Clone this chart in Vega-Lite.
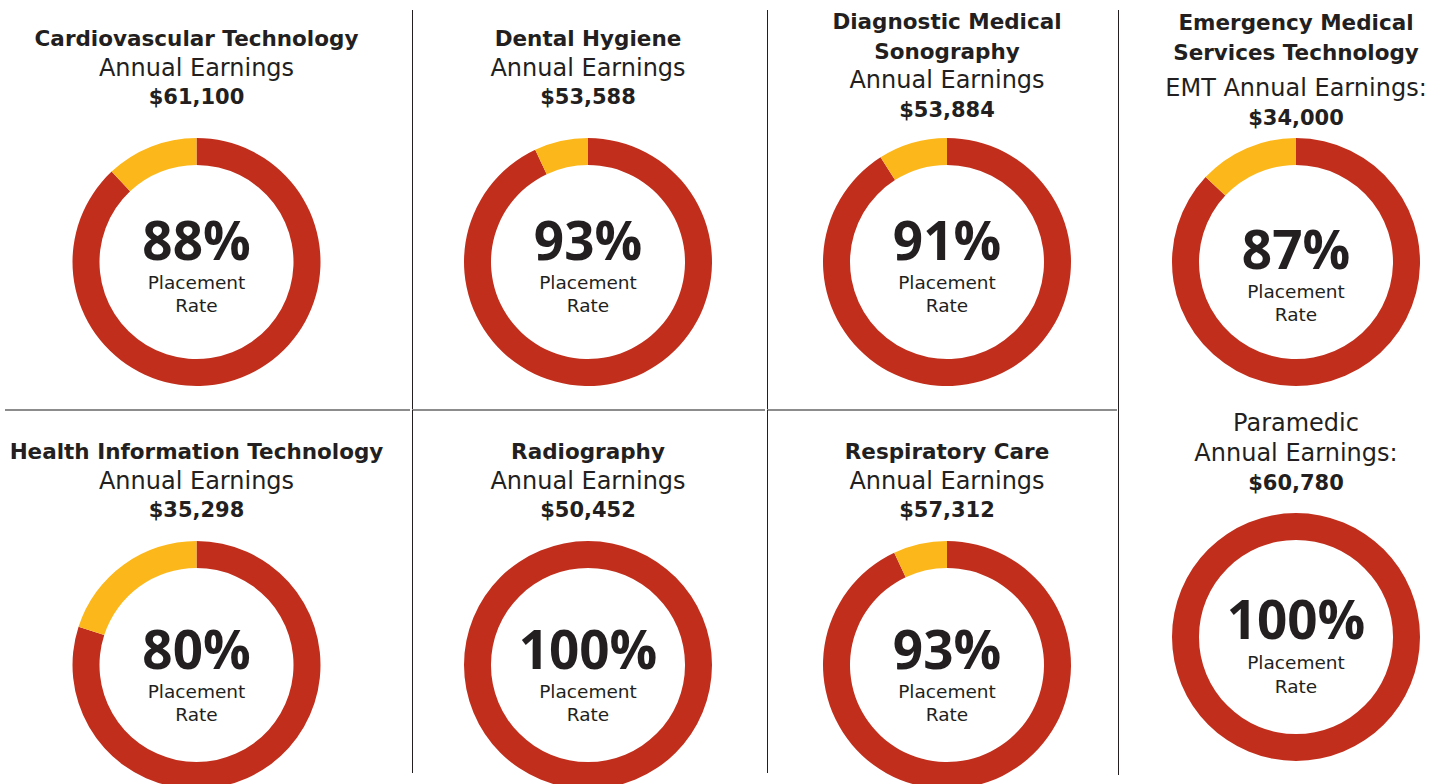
{
  "$schema": "https://vega.github.io/schema/vega-lite/v6.json",
  "padding": 0,
  "background": "white",
  "config": {
    "view": {"stroke": null},
    "text": {"font": "DejaVu Sans", "color": "#231F20", "align": "center"},
    "concat": {"spacing": 0}
  },
  "datasets": {
    "programs": [
      {"program": "Cardiovascular Technology", "title": "Cardiovascular Technology", "label": "Annual Earnings", "earnings": 61100, "rate": 0.88},
      {"program": "Dental Hygiene", "title": "Dental Hygiene", "label": "Annual Earnings", "earnings": 53588, "rate": 0.93},
      {"program": "Diagnostic Medical Sonography", "title": "Diagnostic Medical\nSonography", "label": "Annual Earnings", "earnings": 53884, "rate": 0.91},
      {"program": "Emergency Medical Services Technology", "title": "Emergency Medical\nServices Technology", "label": "EMT Annual Earnings:", "earnings": 34000, "rate": 0.87},
      {"program": "Health Information Technology", "title": "Health Information Technology", "label": "Annual Earnings", "earnings": 35298, "rate": 0.80},
      {"program": "Radiography", "title": "Radiography", "label": "Annual Earnings", "earnings": 50452, "rate": 1.00},
      {"program": "Respiratory Care", "title": "Respiratory Care", "label": "Annual Earnings", "earnings": 57312, "rate": 0.93},
      {"program": "Paramedic", "title": "Paramedic", "label": "Annual Earnings:", "earnings": 60780, "rate": 1.00}
    ],
    "shares": [
      {"program": "Cardiovascular Technology", "status": "Placed", "share": 88},
      {"program": "Cardiovascular Technology", "status": "Unplaced", "share": 12},
      {"program": "Dental Hygiene", "status": "Placed", "share": 93},
      {"program": "Dental Hygiene", "status": "Unplaced", "share": 7},
      {"program": "Diagnostic Medical Sonography", "status": "Placed", "share": 91},
      {"program": "Diagnostic Medical Sonography", "status": "Unplaced", "share": 9},
      {"program": "Emergency Medical Services Technology", "status": "Placed", "share": 87},
      {"program": "Emergency Medical Services Technology", "status": "Unplaced", "share": 13},
      {"program": "Health Information Technology", "status": "Placed", "share": 80},
      {"program": "Health Information Technology", "status": "Unplaced", "share": 20},
      {"program": "Radiography", "status": "Placed", "share": 100},
      {"program": "Radiography", "status": "Unplaced", "share": 0},
      {"program": "Respiratory Care", "status": "Placed", "share": 93},
      {"program": "Respiratory Care", "status": "Unplaced", "share": 7},
      {"program": "Paramedic", "status": "Placed", "share": 100},
      {"program": "Paramedic", "status": "Unplaced", "share": 0}
    ]
  },
  "spacing": 0,
  "hconcat": [
    {
      "spacing": 0, "bounds": "flush",
      "vconcat": [
        {
          "width": 410, "height": 410,
          "layer": [
            {"data": {"name": "shares"}, "transform": [{"filter": "datum.program === 'Cardiovascular Technology'"}],
             "mark": {"type": "arc", "innerRadius": 97, "outerRadius": 124, "xOffset": -8.5, "yOffset": 57},
             "encoding": {"theta": {"field": "share", "type": "quantitative", "stack": true},
                          "color": {"field": "status", "type": "nominal", "scale": {"domain": ["Placed", "Unplaced"], "range": ["#C12F1C", "#FCB71A"]}, "legend": null}}},
            {"data": {"name": "programs"}, "transform": [{"filter": "datum.program === 'Cardiovascular Technology'"}],
             "layer": [
               {"mark": {"type": "text", "baseline": "top", "fontWeight": "bold", "fontSize": 21.5, "lineBreak": "\n", "lineHeight": 30, "dx": -8.5, "dy": -176.5}, "encoding": {"text": {"field": "title"}}},
               {"mark": {"type": "text", "baseline": "alphabetic", "fontSize": 24, "dx": -8.5, "dy": -129.5}, "encoding": {"text": {"field": "label"}}},
               {"mark": {"type": "text", "baseline": "alphabetic", "fontWeight": "bold", "fontSize": 21, "dx": -8.5, "dy": -101}, "encoding": {"text": {"field": "earnings", "type": "quantitative", "format": "$,.0f"}}},
               {"mark": {"type": "text", "baseline": "alphabetic", "font": "Open Sans", "fontWeight": "bold", "fontSize": 53, "dx": -8.5, "dy": 55}, "encoding": {"text": {"field": "rate", "type": "quantitative", "format": ".0%"}}},
               {"mark": {"type": "text", "baseline": "alphabetic", "fontSize": 18.5, "dx": -8.5, "dy": 84, "text": "Placement"}},
               {"mark": {"type": "text", "baseline": "alphabetic", "fontSize": 18.5, "dx": -8.5, "dy": 107, "text": "Rate"}}
             ]}
          ]
        },
        {
          "width": 410, "height": 374,
          "layer": [
            {"data": {"name": "shares"}, "transform": [{"filter": "datum.program === 'Health Information Technology'"}],
             "mark": {"type": "arc", "innerRadius": 97, "outerRadius": 124, "xOffset": -8.5, "yOffset": 68},
             "encoding": {"theta": {"field": "share", "type": "quantitative", "stack": true},
                          "color": {"field": "status", "type": "nominal", "scale": {"domain": ["Placed", "Unplaced"], "range": ["#C12F1C", "#FCB71A"]}, "legend": null}}},
            {"data": {"name": "programs"}, "transform": [{"filter": "datum.program === 'Health Information Technology'"}],
             "layer": [
               {"mark": {"type": "rule", "color": "#8C8C8C", "strokeWidth": 2}, "encoding": {"x": {"value": 5}, "x2": {"value": "width"}, "y": {"value": 0}}},
               {"mark": {"type": "text", "baseline": "top", "fontWeight": "bold", "fontSize": 21.5, "lineBreak": "\n", "lineHeight": 30, "dx": -8.5, "dy": -155.5}, "encoding": {"text": {"field": "title"}}},
               {"mark": {"type": "text", "baseline": "alphabetic", "fontSize": 24, "dx": -8.5, "dy": -108}, "encoding": {"text": {"field": "label"}}},
               {"mark": {"type": "text", "baseline": "alphabetic", "fontWeight": "bold", "fontSize": 21, "dx": -8.5, "dy": -80}, "encoding": {"text": {"field": "earnings", "type": "quantitative", "format": "$,.0f"}}},
               {"mark": {"type": "text", "baseline": "alphabetic", "font": "Open Sans", "fontWeight": "bold", "fontSize": 53, "dx": -8.5, "dy": 72}, "encoding": {"text": {"field": "rate", "type": "quantitative", "format": ".0%"}}},
               {"mark": {"type": "text", "baseline": "alphabetic", "fontSize": 18.5, "dx": -8.5, "dy": 101, "text": "Placement"}},
               {"mark": {"type": "text", "baseline": "alphabetic", "fontSize": 18.5, "dx": -8.5, "dy": 124, "text": "Rate"}}
             ]}
          ]
        }
      ]
    },
    {
      "spacing": 0, "bounds": "flush",
      "vconcat": [
        {
          "width": 353, "height": 410,
          "layer": [
            {"data": {"name": "shares"}, "transform": [{"filter": "datum.program === 'Dental Hygiene'"}],
             "mark": {"type": "arc", "innerRadius": 97, "outerRadius": 124, "xOffset": -0.5, "yOffset": 57},
             "encoding": {"theta": {"field": "share", "type": "quantitative", "stack": true},
                          "color": {"field": "status", "type": "nominal", "scale": {"domain": ["Placed", "Unplaced"], "range": ["#C12F1C", "#FCB71A"]}, "legend": null}}},
            {"data": {"name": "programs"}, "transform": [{"filter": "datum.program === 'Dental Hygiene'"}],
             "layer": [
               {"mark": {"type": "rule", "color": "#231F20", "strokeWidth": 1, "xOffset": 0.5}, "encoding": {"x": {"value": 0}, "y": {"value": 10}, "y2": {"value": "height"}}},
               {"mark": {"type": "text", "baseline": "top", "fontWeight": "bold", "fontSize": 21.5, "lineBreak": "\n", "lineHeight": 30, "dx": -0.5, "dy": -176.5}, "encoding": {"text": {"field": "title"}}},
               {"mark": {"type": "text", "baseline": "alphabetic", "fontSize": 24, "dx": -0.5, "dy": -129.5}, "encoding": {"text": {"field": "label"}}},
               {"mark": {"type": "text", "baseline": "alphabetic", "fontWeight": "bold", "fontSize": 21, "dx": -0.5, "dy": -101}, "encoding": {"text": {"field": "earnings", "type": "quantitative", "format": "$,.0f"}}},
               {"mark": {"type": "text", "baseline": "alphabetic", "font": "Open Sans", "fontWeight": "bold", "fontSize": 53, "dx": -0.5, "dy": 55}, "encoding": {"text": {"field": "rate", "type": "quantitative", "format": ".0%"}}},
               {"mark": {"type": "text", "baseline": "alphabetic", "fontSize": 18.5, "dx": -0.5, "dy": 84, "text": "Placement"}},
               {"mark": {"type": "text", "baseline": "alphabetic", "fontSize": 18.5, "dx": -0.5, "dy": 107, "text": "Rate"}}
             ]}
          ]
        },
        {
          "width": 353, "height": 374,
          "layer": [
            {"data": {"name": "shares"}, "transform": [{"filter": "datum.program === 'Radiography'"}],
             "mark": {"type": "arc", "innerRadius": 97, "outerRadius": 124, "xOffset": -0.5, "yOffset": 68},
             "encoding": {"theta": {"field": "share", "type": "quantitative", "stack": true},
                          "color": {"field": "status", "type": "nominal", "scale": {"domain": ["Placed", "Unplaced"], "range": ["#C12F1C", "#FCB71A"]}, "legend": null}}},
            {"data": {"name": "programs"}, "transform": [{"filter": "datum.program === 'Radiography'"}],
             "layer": [
               {"mark": {"type": "rule", "color": "#8C8C8C", "strokeWidth": 2}, "encoding": {"x": {"value": 0}, "x2": {"value": "width"}, "y": {"value": 0}}},
               {"mark": {"type": "rule", "color": "#231F20", "strokeWidth": 1, "xOffset": 0.5}, "encoding": {"x": {"value": 0}, "y": {"value": 0}, "y2": {"value": 363}}},
               {"mark": {"type": "text", "baseline": "top", "fontWeight": "bold", "fontSize": 21.5, "lineBreak": "\n", "lineHeight": 30, "dx": -0.5, "dy": -155.5}, "encoding": {"text": {"field": "title"}}},
               {"mark": {"type": "text", "baseline": "alphabetic", "fontSize": 24, "dx": -0.5, "dy": -108}, "encoding": {"text": {"field": "label"}}},
               {"mark": {"type": "text", "baseline": "alphabetic", "fontWeight": "bold", "fontSize": 21, "dx": -0.5, "dy": -80}, "encoding": {"text": {"field": "earnings", "type": "quantitative", "format": "$,.0f"}}},
               {"mark": {"type": "text", "baseline": "alphabetic", "font": "Open Sans", "fontWeight": "bold", "fontSize": 53, "dx": -0.5, "dy": 72}, "encoding": {"text": {"field": "rate", "type": "quantitative", "format": ".0%"}}},
               {"mark": {"type": "text", "baseline": "alphabetic", "fontSize": 18.5, "dx": -0.5, "dy": 101, "text": "Placement"}},
               {"mark": {"type": "text", "baseline": "alphabetic", "fontSize": 18.5, "dx": -0.5, "dy": 124, "text": "Rate"}}
             ]}
          ]
        }
      ]
    },
    {
      "spacing": 0, "bounds": "flush",
      "vconcat": [
        {
          "width": 350, "height": 410,
          "layer": [
            {"data": {"name": "shares"}, "transform": [{"filter": "datum.program === 'Diagnostic Medical Sonography'"}],
             "mark": {"type": "arc", "innerRadius": 97, "outerRadius": 124, "xOffset": 5, "yOffset": 57},
             "encoding": {"theta": {"field": "share", "type": "quantitative", "stack": true},
                          "color": {"field": "status", "type": "nominal", "scale": {"domain": ["Placed", "Unplaced"], "range": ["#C12F1C", "#FCB71A"]}, "legend": null}}},
            {"data": {"name": "programs"}, "transform": [{"filter": "datum.program === 'Diagnostic Medical Sonography'"}],
             "layer": [
               {"mark": {"type": "rule", "color": "#231F20", "strokeWidth": 1, "xOffset": 0.5}, "encoding": {"x": {"value": 0}, "y": {"value": 10}, "y2": {"value": "height"}}},
               {"mark": {"type": "text", "baseline": "top", "fontWeight": "bold", "fontSize": 21.5, "lineBreak": "\n", "lineHeight": 30, "dx": 5, "dy": -193}, "encoding": {"text": {"field": "title"}}},
               {"mark": {"type": "text", "baseline": "alphabetic", "fontSize": 24, "dx": 5, "dy": -117}, "encoding": {"text": {"field": "label"}}},
               {"mark": {"type": "text", "baseline": "alphabetic", "fontWeight": "bold", "fontSize": 21, "dx": 5, "dy": -88}, "encoding": {"text": {"field": "earnings", "type": "quantitative", "format": "$,.0f"}}},
               {"mark": {"type": "text", "baseline": "alphabetic", "font": "Open Sans", "fontWeight": "bold", "fontSize": 53, "dx": 5, "dy": 55}, "encoding": {"text": {"field": "rate", "type": "quantitative", "format": ".0%"}}},
               {"mark": {"type": "text", "baseline": "alphabetic", "fontSize": 18.5, "dx": 5, "dy": 84, "text": "Placement"}},
               {"mark": {"type": "text", "baseline": "alphabetic", "fontSize": 18.5, "dx": 5, "dy": 107, "text": "Rate"}}
             ]}
          ]
        },
        {
          "width": 350, "height": 374,
          "layer": [
            {"data": {"name": "shares"}, "transform": [{"filter": "datum.program === 'Respiratory Care'"}],
             "mark": {"type": "arc", "innerRadius": 97, "outerRadius": 124, "xOffset": 5, "yOffset": 68},
             "encoding": {"theta": {"field": "share", "type": "quantitative", "stack": true},
                          "color": {"field": "status", "type": "nominal", "scale": {"domain": ["Placed", "Unplaced"], "range": ["#C12F1C", "#FCB71A"]}, "legend": null}}},
            {"data": {"name": "programs"}, "transform": [{"filter": "datum.program === 'Respiratory Care'"}],
             "layer": [
               {"mark": {"type": "rule", "color": "#8C8C8C", "strokeWidth": 2}, "encoding": {"x": {"value": 0}, "x2": {"value": "width"}, "y": {"value": 0}}},
               {"mark": {"type": "rule", "color": "#231F20", "strokeWidth": 1, "xOffset": 0.5}, "encoding": {"x": {"value": 0}, "y": {"value": 0}, "y2": {"value": 363}}},
               {"mark": {"type": "text", "baseline": "top", "fontWeight": "bold", "fontSize": 21.5, "lineBreak": "\n", "lineHeight": 30, "dx": 5, "dy": -155.5}, "encoding": {"text": {"field": "title"}}},
               {"mark": {"type": "text", "baseline": "alphabetic", "fontSize": 24, "dx": 5, "dy": -108}, "encoding": {"text": {"field": "label"}}},
               {"mark": {"type": "text", "baseline": "alphabetic", "fontWeight": "bold", "fontSize": 21, "dx": 5, "dy": -80}, "encoding": {"text": {"field": "earnings", "type": "quantitative", "format": "$,.0f"}}},
               {"mark": {"type": "text", "baseline": "alphabetic", "font": "Open Sans", "fontWeight": "bold", "fontSize": 53, "dx": 5, "dy": 72}, "encoding": {"text": {"field": "rate", "type": "quantitative", "format": ".0%"}}},
               {"mark": {"type": "text", "baseline": "alphabetic", "fontSize": 18.5, "dx": 5, "dy": 101, "text": "Placement"}},
               {"mark": {"type": "text", "baseline": "alphabetic", "fontSize": 18.5, "dx": 5, "dy": 124, "text": "Rate"}}
             ]}
          ]
        }
      ]
    },
    {
      "spacing": 0, "bounds": "flush",
      "vconcat": [
        {
          "width": 336, "height": 410,
          "layer": [
            {"data": {"name": "shares"}, "transform": [{"filter": "datum.program === 'Emergency Medical Services Technology'"}],
             "mark": {"type": "arc", "innerRadius": 97, "outerRadius": 124, "xOffset": 10, "yOffset": 57},
             "encoding": {"theta": {"field": "share", "type": "quantitative", "stack": true},
                          "color": {"field": "status", "type": "nominal", "scale": {"domain": ["Placed", "Unplaced"], "range": ["#C12F1C", "#FCB71A"]}, "legend": null}}},
            {"data": {"name": "programs"}, "transform": [{"filter": "datum.program === 'Emergency Medical Services Technology'"}],
             "layer": [
               {"mark": {"type": "rule", "color": "#231F20", "strokeWidth": 1, "xOffset": 0.5}, "encoding": {"x": {"value": 0}, "y": {"value": 10}, "y2": {"value": "height"}}},
               {"mark": {"type": "text", "baseline": "top", "fontWeight": "bold", "fontSize": 21.5, "lineBreak": "\n", "lineHeight": 30, "dx": 10, "dy": -192}, "encoding": {"text": {"field": "title"}}},
               {"mark": {"type": "text", "baseline": "alphabetic", "fontSize": 24, "dx": 10, "dy": -109}, "encoding": {"text": {"field": "label"}}},
               {"mark": {"type": "text", "baseline": "alphabetic", "fontWeight": "bold", "fontSize": 21, "dx": 10, "dy": -80}, "encoding": {"text": {"field": "earnings", "type": "quantitative", "format": "$,.0f"}}},
               {"mark": {"type": "text", "baseline": "alphabetic", "font": "Open Sans", "fontWeight": "bold", "fontSize": 53, "dx": 10, "dy": 64}, "encoding": {"text": {"field": "rate", "type": "quantitative", "format": ".0%"}}},
               {"mark": {"type": "text", "baseline": "alphabetic", "fontSize": 18.5, "dx": 10, "dy": 93, "text": "Placement"}},
               {"mark": {"type": "text", "baseline": "alphabetic", "fontSize": 18.5, "dx": 10, "dy": 116, "text": "Rate"}}
             ]}
          ]
        },
        {
          "width": 336, "height": 374,
          "layer": [
            {"data": {"name": "shares"}, "transform": [{"filter": "datum.program === 'Paramedic'"}],
             "mark": {"type": "arc", "innerRadius": 97, "outerRadius": 124, "xOffset": 10, "yOffset": 40},
             "encoding": {"theta": {"field": "share", "type": "quantitative", "stack": true},
                          "color": {"field": "status", "type": "nominal", "scale": {"domain": ["Placed", "Unplaced"], "range": ["#C12F1C", "#FCB71A"]}, "legend": null}}},
            {"data": {"name": "programs"}, "transform": [{"filter": "datum.program === 'Paramedic'"}],
             "layer": [
               {"mark": {"type": "rule", "color": "#231F20", "strokeWidth": 1, "xOffset": 0.5}, "encoding": {"x": {"value": 0}, "y": {"value": 0}, "y2": {"value": 365}}},
               {"mark": {"type": "text", "baseline": "alphabetic", "fontSize": 24, "dx": 10, "dy": -166}, "encoding": {"text": {"field": "title"}}},
               {"mark": {"type": "text", "baseline": "alphabetic", "fontSize": 24, "dx": 10, "dy": -136}, "encoding": {"text": {"field": "label"}}},
               {"mark": {"type": "text", "baseline": "alphabetic", "fontWeight": "bold", "fontSize": 21, "dx": 10, "dy": -107.5}, "encoding": {"text": {"field": "earnings", "type": "quantitative", "format": "$,.0f"}}},
               {"mark": {"type": "text", "baseline": "alphabetic", "font": "Open Sans", "fontWeight": "bold", "fontSize": 53, "dx": 10, "dy": 42}, "encoding": {"text": {"field": "rate", "type": "quantitative", "format": ".0%"}}},
               {"mark": {"type": "text", "baseline": "alphabetic", "fontSize": 18.5, "dx": 10, "dy": 72, "text": "Placement"}},
               {"mark": {"type": "text", "baseline": "alphabetic", "fontSize": 18.5, "dx": 10, "dy": 96, "text": "Rate"}}
             ]}
          ]
        }
      ]
    }
  ]
}
